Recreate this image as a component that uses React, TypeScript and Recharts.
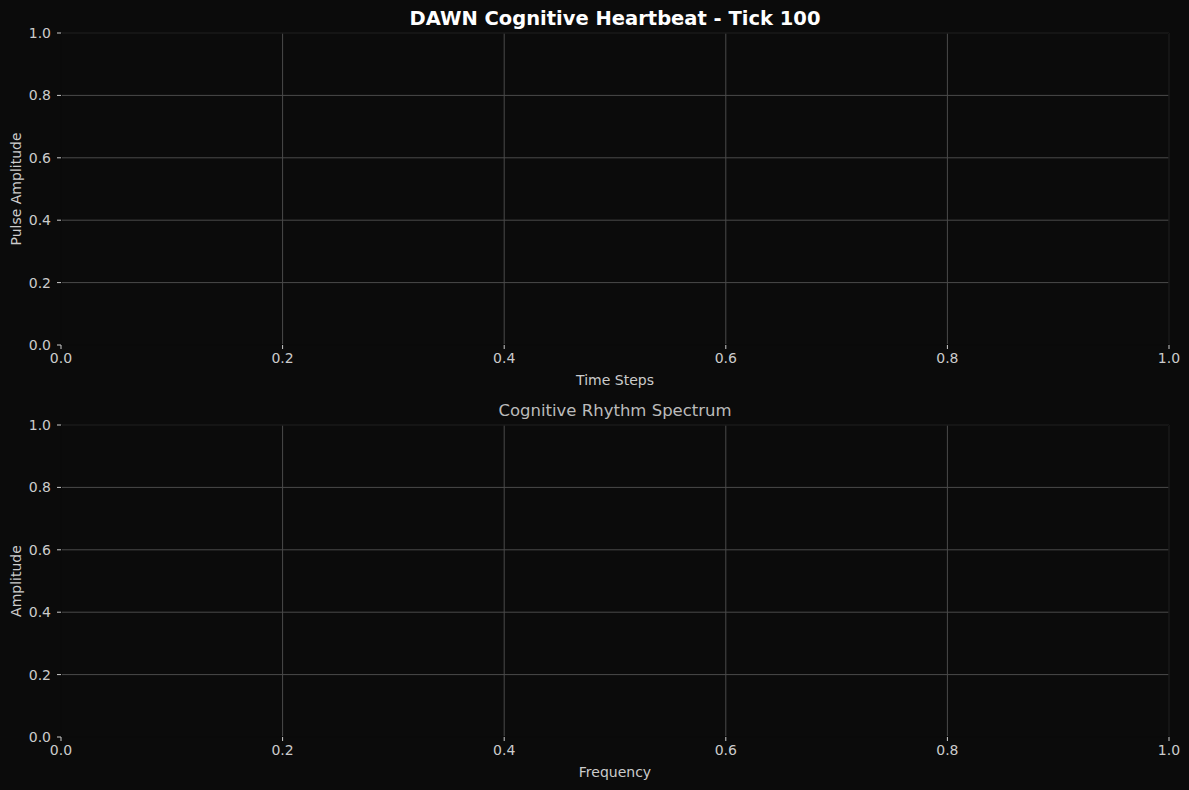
import { ScatterChart, Scatter, CartesianGrid, XAxis, YAxis, ReferenceArea } from "recharts";

// the reference figure has no plotted values yet: both panels are empty
const timeSteps: number[] = [];
const pulseAmplitude: number[] = [];
const frequencies: number[] = [];
const spectrumAmplitude: number[] = [];
const axisTicks = [0, 0.2, 0.4, 0.6, 0.8, 1.0];

const pulseData = timeSteps.map((t, i) => ({ x: t, y: pulseAmplitude[i] }));
const spectrumData = frequencies.map((f, i) => ({ x: f, y: spectrumAmplitude[i] }));

const BG = "#0b0b0b";
const TEXT = "#cccccc";
const FONT = "DejaVu Sans, sans-serif";

function Panel({
  data,
  xLabel,
  yLabel,
  height,
  top,
}: {
  data: { x: number; y: number }[];
  xLabel: string;
  yLabel: string;
  height: number;
  top: number;
}) {
  const plotH = 312;
  const xAxisH = 44;
  return (
    <ScatterChart
      width={1189}
      height={height}
      margin={{ top, left: 11, right: 20, bottom: height - top - plotH - xAxisH }}
      style={{ fontFamily: FONT }}
    >
      <CartesianGrid stroke="#4a4a4a" strokeWidth={1} />
      <XAxis
        type="number"
        dataKey="x"
        domain={[0, 1]}
        allowDataOverflow
        ticks={axisTicks}
        interval={0}
        tickFormatter={(v: number) => v.toFixed(1)}
        height={xAxisH}
        axisLine={{ stroke: "#000000" }}
        tickLine={{ stroke: TEXT }}
        tickSize={4}
        tick={{ fill: TEXT, fontSize: 14, dy: 2 }}
        label={{ value: xLabel, position: "insideBottom", offset: 4, fill: TEXT, fontSize: 14 }}
      />
      <YAxis
        type="number"
        dataKey="y"
        domain={[0, 1]}
        allowDataOverflow
        ticks={axisTicks}
        interval={0}
        tickFormatter={(v: number) => v.toFixed(1)}
        width={50}
        axisLine={{ stroke: "#000000" }}
        tickLine={{ stroke: TEXT }}
        tickSize={4}
        tick={{ fill: TEXT, fontSize: 14, dx: -4 }}
        label={{ value: yLabel, angle: -90, position: "insideLeft", offset: 5, fill: TEXT, fontSize: 14, style: { textAnchor: "middle" } }}
      />
      <ReferenceArea x1={0} x2={1} y1={0} y2={1} fill="none" stroke="#000000" strokeWidth={1} fillOpacity={0} ifOverflow="visible" />
      <Scatter data={data} fill="#00ffff" isAnimationActive={false} />
    </ScatterChart>
  );
}

export default function App() {
  return (
    <div
      style={{
        position: "absolute",
        left: 0,
        top: 0,
        width: 1189,
        height: 790,
        background: BG,
        fontFamily: FONT,
        overflow: "hidden",
      }}
    >
      <div
        style={{
          position: "absolute",
          top: 7,
          left: 0,
          width: 1230,
          textAlign: "center",
          color: "#ffffff",
          fontWeight: "bold",
          fontSize: 19.5,
        }}
      >
        DAWN Cognitive Heartbeat - Tick 100
      </div>
      <div
        style={{
          position: "absolute",
          top: 401,
          left: 0,
          width: 1230,
          textAlign: "center",
          color: "#bbbbbb",
          fontSize: 16.5,
        }}
      >
        Cognitive Rhythm Spectrum
      </div>
      <div style={{ position: "absolute", top: 0, left: 0 }}>
        <Panel data={pulseData} xLabel="Time Steps" yLabel="Pulse Amplitude" height={395} top={33} />
      </div>
      <div style={{ position: "absolute", top: 392, left: 0 }}>
        <Panel data={spectrumData} xLabel="Frequency" yLabel="Amplitude" height={398} top={33} />
      </div>
    </div>
  );
}
